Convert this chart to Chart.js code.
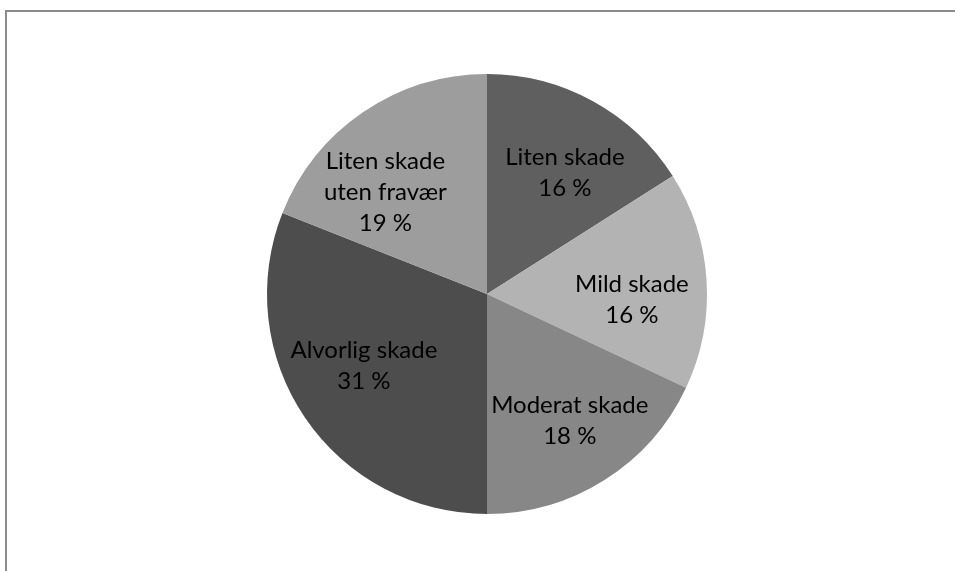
<!DOCTYPE html>
<html>
<head>
<meta charset="utf-8">
<script src="https://cdn.jsdelivr.net/npm/chart.js@4/dist/chart.umd.min.js"></script>
<style>
  html, body { margin: 0; padding: 0; background: #fff; }
  #wrap { position: relative; width: 955px; height: 571px; overflow: hidden; }
</style>
</head>
<body>
<div id="wrap"><canvas id="pieChart" width="955" height="571"></canvas></div>
<script>
// data, clockwise from 12 o'clock
const categories = [
    ['Liten skade'],
    ['Mild skade'],
    ['Moderat skade'],
    ['Alvorlig skade'],
    ['Liten skade', 'uten fravær']
];
const shares = [16, 16, 18, 31, 19];
const sliceColors = ['#5f5f5f', '#b3b3b3', '#878787', '#4d4d4d', '#9d9d9d'];

// label placement (fraction of radius, nudge in px) - Excel "best fit" look
const labelRadius = 0.66;
const labelNudge = [[8, 6], [0, 15], [5, 4], [-3, -10], [-20, 18]];

const frame = {
    id: 'frame',
    beforeDraw(chart) {
        const c = chart.ctx;
        c.save();
        c.strokeStyle = '#8c8c8c';
        c.lineWidth = 2;
        c.strokeRect(6, 11, 1000, 700);
        c.restore();
    }
};

const sliceLabels = {
    id: 'sliceLabels',
    afterDatasetsDraw(chart) {
        const c = chart.ctx;
        const meta = chart.getDatasetMeta(0);
        c.save();
        c.font = '24px Lato';
        c.fillStyle = '#000';
        c.textAlign = 'center';
        c.textBaseline = 'middle';
        meta.data.forEach((arc, i) => {
            const p = arc.getProps(['x', 'y', 'startAngle', 'endAngle', 'outerRadius'], true);
            const mid = (p.startAngle + p.endAngle) / 2;
            const r = p.outerRadius * labelRadius;
            const cx = p.x + Math.cos(mid) * r + labelNudge[i][0];
            const cy = p.y + Math.sin(mid) * r + labelNudge[i][1];
            const lines = categories[i].concat([shares[i] + ' %']);
            const lh = 31;
            const top = cy - (lines.length - 1) * lh / 2;
            lines.forEach((t, k) => c.fillText(t, cx, top + k * lh));
        });
        c.restore();
    }
};

new Chart(document.getElementById('pieChart').getContext('2d'), {
    type: 'pie',
    data: {
        labels: categories.map(l => l.join(' ')),
        datasets: [{
            data: shares,
            backgroundColor: sliceColors,
            borderWidth: 0
        }]
    },
    options: {
        responsive: false,
        animation: false,
        layout: { padding: { left: 19, right: 0, top: 74, bottom: 57 } },
        plugins: {
            legend: { display: false },
            tooltip: { enabled: false }
        }
    },
    plugins: [frame, sliceLabels]
});
</script>
</body>
</html>
